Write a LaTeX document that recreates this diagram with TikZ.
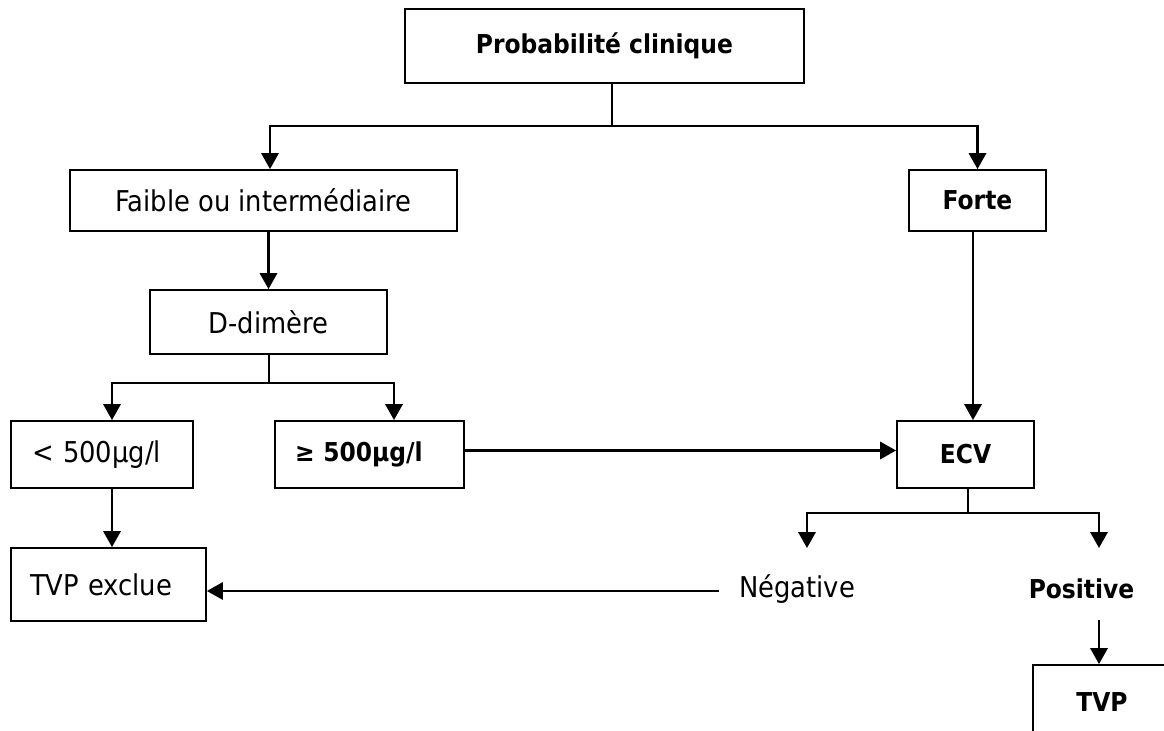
\documentclass[tikz,border=0pt]{standalone}
\usepackage{fontspec}
\IfFontExistsTF{DejaVu Sans Condensed}
  {\setmainfont{DejaVu Sans Condensed}}
  {\setmainfont{DejaVu Sans}}
\usetikzlibrary{arrows.meta,calc}

\tikzset{
  box/.style={draw, line width=1.4pt, rectangle, inner sep=0pt, align=center,
              font=\fontsize{21.5pt}{25pt}\selectfont},
  lbox/.style={draw, line width=1.4pt, rectangle, inner ysep=0pt, align=left,
               font=\fontsize{21.5pt}{25pt}\selectfont},
  txt/.style={inner sep=0pt, font=\fontsize{21.5pt}{25pt}\selectfont},
  bf/.style={font=\fontsize{19.5pt}{25pt}\selectfont\bfseries},
  link/.style={line width=1.5pt},
  arr/.style={line width=1.8pt, -{Triangle[length=12pt,width=13pt]}}
}

\begin{document}
\begin{tikzpicture}[x=0.75pt,y=-0.75pt]
\useasboundingbox (0,0) rectangle (1164,731);

% boxes
\node[box, bf, minimum width=299.25pt, minimum height=55.5pt] (prob) at (604.5,46) {Probabilité clinique};
\node[box, minimum width=290.25pt, minimum height=45.75pt] (faible) at (263.5,200.5) {Faible ou intermédiaire};
\node[box, bf, minimum width=102.75pt, minimum height=45.75pt] (forte) at (977.5,200.5) {Forte};
\node[box, minimum width=177.75pt, minimum height=48pt] (ddim) at (268.5,322) {D-dimère};
\node[lbox, inner xsep=15.75pt, text width=105pt, minimum height=50.25pt] (lt) at (102,454.5) {< 500µg/l};
\node[lbox, bf, inner xsep=15pt, text width=111.75pt, minimum height=50.25pt] (ge) at (369.5,454.5) {≥ 500µg/l};
\node[box, bf, minimum width=102.75pt, minimum height=50.25pt] (ecv) at (965.5,454.5) {ECV};
\node[lbox, inner xsep=14.25pt, text width=117.75pt, minimum height=54.75pt] (excl) at (108.5,584.5) {TVP exclue};
\node[txt, inner xsep=15pt] (neg) at (797,589) {Négative};
\node[txt, bf] (pos) at (1081.5,589) {Positive};
\node[box, bf, minimum width=103.5pt, minimum height=55.5pt] (tvp) at (1102,702) {TVP};

% first split
\draw[link] ($(prob.south)+(7.5,0)$) -- ++(0,42) coordinate (j1);
\draw[arr] (j1) -| ($(faible.north)+(6.5,0)$);
\draw[arr] (j1) -| (forte.north);

% left branch
\draw[arr] (ddim.north |- faible.south) -- (ddim.north);
\draw[link] (ddim.south) -- ++(0,28) coordinate (j2);
\draw[arr] (j2) -| ($(lt.north)+(10,0)$);
\draw[arr] (j2) -| ($(ge.north)+(24.5,0)$);
\draw[arr] ($(lt.south)+(10,0)$) -- ($(excl.north)+(3.5,0)$);
\draw[arr] ($(ge.east)+(0,-4)$) -- ($(ecv.west)+(0,-4)$);

% right branch
\draw[arr] ($(forte.south)+(-4.5,0)$) -- ($(ecv.north)+(7.5,0)$);
\draw[link] ($(ecv.south)+(2.5,0)$) -- ++(0,24) coordinate (j3);
\coordinate (negin) at (807,548);
\coordinate (posin) at (1099,548);
\draw[arr] (j3) -| (negin);
\draw[arr] (j3) -| (posin);
\coordinate (posout) at (1099,620);
\draw[arr] (posout) -- (posout |- tvp.north);
\draw[arr] ($(neg.west)+(0,2)$) -- ($(neg.west -| excl.east)+(0,2)$);
\end{tikzpicture}
\end{document}
